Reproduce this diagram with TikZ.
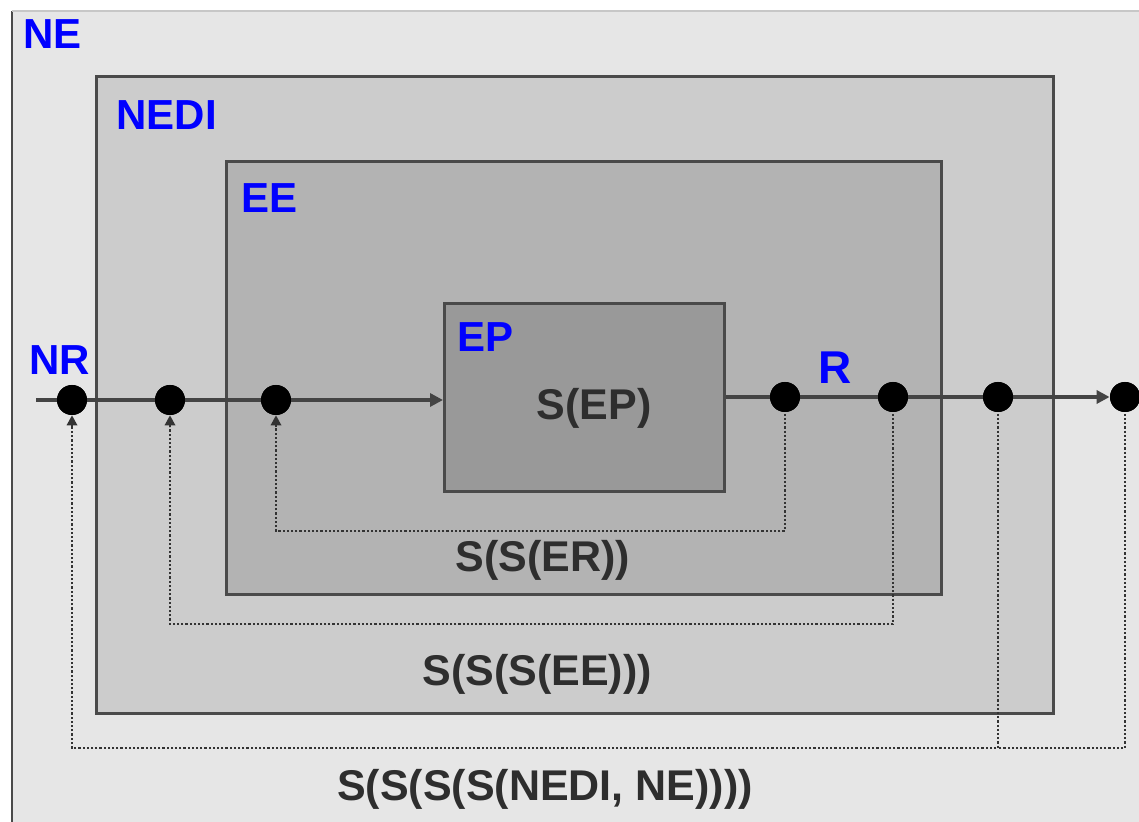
\documentclass[tikz,border=0pt]{standalone}
\usepackage{fontspec}
\setmainfont{Liberation Sans}
\usetikzlibrary{arrows.meta}
\definecolor{nefill}{HTML}{E6E6E6}
\definecolor{nedifill}{HTML}{CCCCCC}
\definecolor{eefill}{HTML}{B3B3B3}
\definecolor{epfill}{HTML}{999999}
\definecolor{boxline}{HTML}{4A4A4A}
\definecolor{lineclr}{HTML}{444444}
\definecolor{fbclr}{HTML}{333333}
\definecolor{txtgray}{HTML}{2E2E2E}
\definecolor{lblblue}{HTML}{0000FF}
\tikzset{
  layerbox/.style={draw=boxline, line width=1.5pt, anchor=north west, inner sep=0pt},
  bluelbl/.style={text=lblblue, font=\fontsize{21}{24}\selectfont\bfseries, inner sep=0pt, anchor=base west},
  graylbl/.style={text=txtgray, font=\fontsize{21.5}{24}\selectfont\bfseries, inner sep=0pt, anchor=base},
  dotnode/.style={circle, fill=black, minimum size=15pt, inner sep=0pt},
  mainline/.style={draw=lineclr, line width=1.8pt},
  mainarrow/.style={mainline, -{Triangle[length=6.5pt, width=6.5pt]}},
  fbline/.style={draw=fbclr, line width=1.3pt, dash pattern=on 1.1pt off 1pt},
  fbarrow/.style={fbline, -{Triangle[length=5pt, width=5.5pt, line width=0pt]}, solid}
}
\begin{document}
\begin{tikzpicture}[x=0.5pt, y=-0.5pt]
\useasboundingbox (0,0) rectangle (1139,822);
\fill[white] (0,0) rectangle (1139,822);
% NE outer region
\fill[nefill] (12,11) rectangle (1139,822);
\draw[draw=boxline, line width=1.4pt] (12,822) -- (12,11);
\draw[draw=black!22, line width=1.4pt] (12,11) -- (1139,11);
% nested boxes
\node[layerbox, fill=nedifill, minimum width=478.5pt, minimum height=318.5pt] (nedi) at (95,75) {};
\node[layerbox, fill=eefill, minimum width=357.5pt, minimum height=216.5pt] (ee) at (225,160) {};
\node[layerbox, fill=epfill, minimum width=140pt, minimum height=94pt] (ep) at (443,302) {};
% blue labels
\node[bluelbl] (lne) at (23,49) {NE};
\node[bluelbl] (lnedi) at (116,130) {NEDI};
\node[bluelbl] (lee) at (241,213) {EE};
\node[bluelbl] (lep) at (457,352) {EP};
\node[bluelbl] (lnr) at (29,375) {NR};
\node[bluelbl, font=\fontsize{23}{26}\selectfont\bfseries] (lr) at (818,384) {R};
% gray labels
\node[graylbl] (sep) at (594,420) {S(EP)};
\node[graylbl] (sser) at (543,572) {S(S(ER))};
\node[graylbl] (sssee) at (537,685) {S(S(S(EE)))};
\node[graylbl] (ssssne) at (545,800) {S(S(S(S(NEDI, NE))))};
% dots
\node[dotnode] (d1) at (72,400) {};
\node[dotnode] (d2) at (170,400) {};
\node[dotnode] (d3) at (276,400) {};
\node[dotnode] (d4) at (785,397) {};
\node[dotnode] (d5) at (893,397) {};
\node[dotnode] (d6) at (998,397) {};
\node[dotnode] (d7) at (1125,397) {};
\coordinate (start) at (36,400);
% main line
\draw[mainline] (start) -- (d1.center) -- (d2.center) -- (d3.center);
\draw[mainarrow] (d3.center) -- (ep.west |- d3);
\draw[mainline] (ep.east |- d4) -- (d4.center) -- (d5.center) -- (d6.center);
\draw[mainarrow] (d6.center) -- (d7.west);
% feedback coordinates
\coordinate (c1) at (276,531);
\coordinate (c2) at (170,624);
\coordinate (c3) at (72,748);
\coordinate (c4) at (998,748);
% feedback lines
\draw[fbline] (d4.center) |- (c1) -- ([yshift=-6pt]d3.south);
\draw[fbline] (d5.center) |- (c2) -- ([yshift=-6pt]d2.south);
\draw[fbline] (d6.center) |- (c3) -- ([yshift=-6pt]d1.south);
\draw[fbline] (d7.center) |- (c4);
\draw[fbarrow] ([yshift=-6pt]d3.south) -- (d3.south);
\draw[fbarrow] ([yshift=-6pt]d2.south) -- (d2.south);
\draw[fbarrow] ([yshift=-6pt]d1.south) -- (d1.south);
% redraw dots on top
\foreach \n in {d1,d2,d3,d4,d5,d6,d7} \fill[black] (\n) circle (7.5pt);
\end{tikzpicture}
\end{document}
